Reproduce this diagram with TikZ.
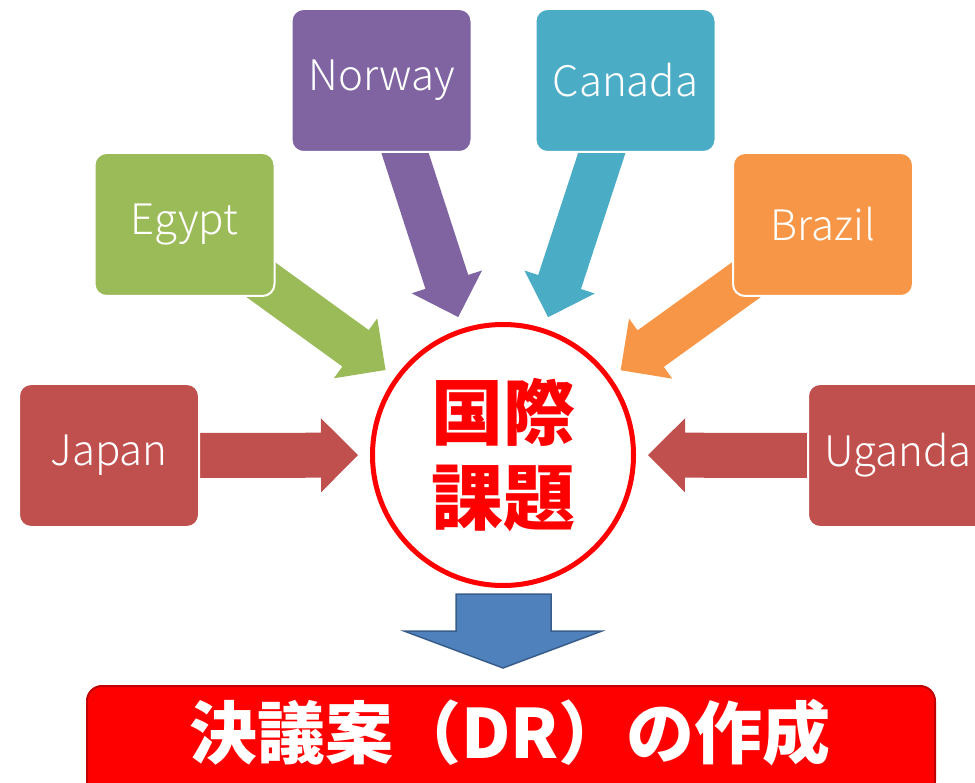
\documentclass[tikz,border=0pt]{standalone}
\usepackage{fontspec}
\newfontfamily\jpfont{Noto Sans CJK JP}
\IfFontExistsTF{Noto Sans CJK JP Light}
  {\newfontfamily\labelfont{Noto Sans CJK JP Light}}
  {\newfontfamily\labelfont{Noto Sans CJK JP}}
\usetikzlibrary{calc,backgrounds}
\definecolor{cred}{HTML}{C0504D}
\definecolor{cgreen}{HTML}{9BBB59}
\definecolor{cpurple}{HTML}{8064A2}
\definecolor{cteal}{HTML}{4BACC6}
\definecolor{corange}{HTML}{F79646}
\definecolor{cblue}{HTML}{4F81BD}
\definecolor{cbluedark}{HTML}{385D8A}
\definecolor{cdarkred}{HTML}{C00000}
\newcommand\blockarrow[2]{%
  \coordinate (#2-tip) at ($(issue.center)!145pt!(#2.center)$);
  \fill[#1] ($(#2.center)!22.5pt!90:(#2-tip)$)
    -- ($(#2-tip)!37pt!(#2.center)!22.5pt!90:(#2-tip)$)
    -- ($(#2-tip)!37pt!(#2.center)!37pt!90:(#2-tip)$)
    -- (#2-tip)
    -- ($(#2-tip)!37pt!(#2.center)!37pt!-90:(#2-tip)$)
    -- ($(#2-tip)!37pt!(#2.center)!22.5pt!-90:(#2-tip)$)
    -- ($(#2.center)!22.5pt!-90:(#2-tip)$) -- cycle;}
\begin{document}
\begin{tikzpicture}[x=1pt,y=-1pt,
  country/.style={rectangle, rounded corners=12pt, minimum width=180pt,
    minimum height=143pt, draw=white, line width=2pt, text=white,
    inner sep=0pt, font=\labelfont\fontsize{42}{50}\selectfont},
  issuestyle/.style={circle, draw=red, line width=5pt, fill=white,
    minimum size=261pt, inner sep=0pt, text=red, align=center,
    font=\jpfont\bfseries\fontsize{72}{85}\selectfont},
  drbox/.style={rectangle, rounded corners=15pt, fill=red, draw=cdarkred,
    line width=2pt, minimum width=848pt, minimum height=110pt},
  drtextstyle/.style={text=white, inner sep=0pt,
    font=\jpfont\bfseries\fontsize{68}{70}\selectfont},
  downarrow/.style={fill=cblue, draw=cbluedark, line width=1.5pt, line join=miter}
]
\useasboundingbox (0,0) rectangle (975,783);
\node[country, fill=cred] (japan) at (109,455.5) {Japan};
\node[country, fill=cred] (uganda) at (898,455.5) {Uganda};
\node[country, fill=cgreen] (egypt) at (184.5,224.5) {Egypt};
\node[country, fill=corange] (brazil) at (823,224.5) {Brazil};
\node[country, fill=cpurple] (norway) at (381.5,80.5) {Norway};
\node[country, fill=cteal] (canada) at (625.5,80.5) {Canada};
\node[issuestyle] (issue) at (503,455) {国際\\課題};
\begin{pgfonlayer}{background}
\blockarrow{cred}{japan}
\blockarrow{cred}{uganda}
\blockarrow{cgreen}{egypt}
\blockarrow{corange}{brazil}
\blockarrow{cpurple}{norway}
\blockarrow{cteal}{canada}
\end{pgfonlayer}
\node[drbox] (dr) at (511,741) {};
\node[drtextstyle] (drtext) at (510,733) {決議案（DR）の作成};
\draw[downarrow] (456,594) -- (551,594) -- (551,631) -- (602,631)
  -- (503,668) -- (404,631) -- (456,631) -- cycle;
\end{tikzpicture}
\end{document}
